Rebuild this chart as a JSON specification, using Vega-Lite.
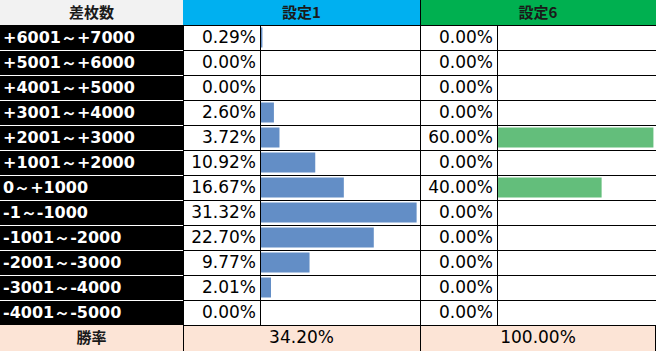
{
  "$schema": "https://vega.github.io/schema/vega-lite/v6.json",
  "padding": 0,
  "spacing": 0,
  "background": "white",
  "config": {"view": {"stroke": null}, "concat": {"spacing": 0}, "mark": {"clip": true}},
  "datasets": {
    "rows": [
      {"range": "+6001～+7000", "s1": 0.0029, "s6": 0.0},
      {"range": "+5001～+6000", "s1": 0.0, "s6": 0.0},
      {"range": "+4001～+5000", "s1": 0.0, "s6": 0.0},
      {"range": "+3001～+4000", "s1": 0.026, "s6": 0.0},
      {"range": "+2001～+3000", "s1": 0.0372, "s6": 0.6},
      {"range": "+1001～+2000", "s1": 0.1092, "s6": 0.0},
      {"range": "0～+1000", "s1": 0.1667, "s6": 0.4},
      {"range": "-1～-1000", "s1": 0.3132, "s6": 0.0},
      {"range": "-1001～-2000", "s1": 0.227, "s6": 0.0},
      {"range": "-2001～-3000", "s1": 0.0977, "s6": 0.0},
      {"range": "-3001～-4000", "s1": 0.0201, "s6": 0.0},
      {"range": "-4001～-5000", "s1": 0.0, "s6": 0.0}
    ],
    "head": [{"c1": "差枚数", "c2": "設定1", "c3": "設定6"}],
    "foot": [{"label": "勝率", "s1": 0.342, "s6": 1.0}]
  },
  "vconcat": [
    {
      "spacing": 0,
      "bounds": "flush",
      "hconcat": [
        {
          "width": 183, "height": 25, "data": {"name": "head"},
          "layer": [
            {"mark": {"type": "rect", "fill": "#f2f2f2", "clip": true}, "encoding": {}},
            {"mark": {"type": "text", "clip": true, "font": "Noto Sans CJK JP", "fontWeight": "bold", "fontSize": 15, "fill": "#1a1a1a", "baseline": "middle"}, "encoding": {"text": {"field": "c1"}}}
          ]
        },
        {
          "width": 237, "height": 25, "data": {"name": "head"},
          "layer": [
            {"mark": {"type": "rect", "fill": "#00b0f0", "clip": true}, "encoding": {}},
            {"mark": {"type": "text", "clip": true, "font": "Noto Sans CJK JP", "fontWeight": "bold", "fontSize": 15, "fill": "#1a1a1a", "baseline": "middle"}, "encoding": {"text": {"field": "c2"}}}
          ]
        },
        {
          "width": 236, "height": 25, "data": {"name": "head"},
          "layer": [
            {"mark": {"type": "rect", "fill": "#00b050", "clip": true}, "encoding": {}},
            {"mark": {"type": "rule", "clip": true, "stroke": "#000", "strokeWidth": 1, "xOffset": 0.5}, "encoding": {"x": {"value": 0}}},
            {"mark": {"type": "text", "clip": true, "font": "Noto Sans CJK JP", "fontWeight": "bold", "fontSize": 15, "fill": "#1a1a1a", "baseline": "middle"}, "encoding": {"text": {"field": "c3"}}}
          ]
        }
      ]
    },
    {
      "spacing": 0,
      "bounds": "flush",
      "data": {"name": "rows"},
      "hconcat": [
        {
          "width": 183, "height": 300,
          "layer": [
            {"mark": {"type": "rect", "fill": "#000", "clip": true}, "encoding": {"y": {"field": "range", "type": "nominal", "sort": null, "scale": {"type": "band", "paddingInner": 0, "paddingOuter": 0}, "axis": null}}},
            {"transform": [{"filter": "datum.range !== '+6001～+7000'"}], "mark": {"type": "rule", "clip": true, "stroke": "#fff", "strokeWidth": 1, "yOffset": 0.5}, "encoding": {"y": {"field": "range", "type": "nominal", "sort": null, "bandPosition": 0, "axis": null}}},
            {"mark": {"type": "text", "clip": true, "align": "left", "baseline": "middle", "dx": 3, "font": "DejaVu Sans", "fontWeight": "bold", "fontSize": 16, "fill": "#fff"}, "encoding": {"x": {"value": 0}, "y": {"field": "range", "type": "nominal", "sort": null, "axis": null}, "text": {"field": "range"}}}
          ]
        },
        {
          "width": 77, "height": 300,
          "layer": [
            {"mark": {"type": "rule", "clip": true, "stroke": "#000", "strokeWidth": 1, "yOffset": 0.5}, "encoding": {"y": {"field": "range", "type": "nominal", "sort": null, "bandPosition": 0, "scale": {"type": "band", "paddingInner": 0, "paddingOuter": 0}, "axis": null}}},
            {"mark": {"type": "rule", "clip": true, "stroke": "#000", "strokeWidth": 1, "xOffset": 0.5}, "encoding": {"x": {"value": 0}}},
            {"mark": {"type": "text", "clip": true, "align": "right", "baseline": "middle", "dx": -4, "font": "DejaVu Sans", "fontSize": 17, "fill": "#000"}, "encoding": {"x": {"value": "width"}, "y": {"field": "range", "type": "nominal", "sort": null, "axis": null}, "text": {"field": "s1", "type": "quantitative", "format": ".2%"}}}
          ]
        },
        {
          "width": 160, "height": 300,
          "layer": [
            {"mark": {"type": "rule", "clip": true, "stroke": "#000", "strokeWidth": 1, "yOffset": 0.5}, "encoding": {"y": {"field": "range", "type": "nominal", "sort": null, "bandPosition": 0, "scale": {"type": "band", "paddingInner": 0, "paddingOuter": 0}, "axis": null}}},
            {"mark": {"type": "rule", "clip": true, "stroke": "#000", "strokeWidth": 1, "xOffset": 0.5}, "encoding": {"x": {"value": 0}}},
            {"mark": {"type": "bar", "clip": true, "fill": "#638ec6", "height": {"band": 0.8}}, "encoding": {"y": {"field": "range", "type": "nominal", "sort": null, "axis": null}, "x": {"field": "s1", "type": "quantitative", "scale": {"domain": [-0.002, 0.32], "nice": false, "zero": false}, "axis": null}}}
          ]
        },
        {
          "width": 77, "height": 300,
          "layer": [
            {"mark": {"type": "rule", "clip": true, "stroke": "#000", "strokeWidth": 1, "yOffset": 0.5}, "encoding": {"y": {"field": "range", "type": "nominal", "sort": null, "bandPosition": 0, "scale": {"type": "band", "paddingInner": 0, "paddingOuter": 0}, "axis": null}}},
            {"mark": {"type": "rule", "clip": true, "stroke": "#000", "strokeWidth": 1, "xOffset": 0.5}, "encoding": {"x": {"value": 0}}},
            {"mark": {"type": "text", "clip": true, "align": "right", "baseline": "middle", "dx": -4, "font": "DejaVu Sans", "fontSize": 17, "fill": "#000"}, "encoding": {"x": {"value": "width"}, "y": {"field": "range", "type": "nominal", "sort": null, "axis": null}, "text": {"field": "s6", "type": "quantitative", "format": ".2%"}}}
          ]
        },
        {
          "width": 159, "height": 300,
          "layer": [
            {"mark": {"type": "rule", "clip": true, "stroke": "#000", "strokeWidth": 1, "yOffset": 0.5}, "encoding": {"y": {"field": "range", "type": "nominal", "sort": null, "bandPosition": 0, "scale": {"type": "band", "paddingInner": 0, "paddingOuter": 0}, "axis": null}}},
            {"mark": {"type": "rule", "clip": true, "stroke": "#000", "strokeWidth": 1, "xOffset": 0.5}, "encoding": {"x": {"value": 0}}},
            {"mark": {"type": "bar", "clip": true, "fill": "#63be7b", "height": {"band": 0.8}}, "encoding": {"y": {"field": "range", "type": "nominal", "sort": null, "axis": null}, "x": {"field": "s6", "type": "quantitative", "scale": {"domain": [-0.004, 0.61], "nice": false, "zero": false}, "axis": null}}}
          ]
        }
      ]
    },
    {
      "spacing": 0,
      "bounds": "flush",
      "data": {"name": "foot"},
      "hconcat": [
        {
          "width": 183, "height": 26,
          "layer": [
            {"mark": {"type": "rect", "fill": "#fce4d6", "clip": true}, "encoding": {}},
            {"mark": {"type": "text", "clip": true, "font": "Noto Sans CJK JP", "fontWeight": "bold", "fontSize": 15, "fill": "#1a1a1a", "baseline": "middle"}, "encoding": {"text": {"field": "label"}}}
          ]
        },
        {
          "width": 237, "height": 26,
          "layer": [
            {"mark": {"type": "rect", "fill": "#fce4d6", "clip": true}, "encoding": {}},
            {"mark": {"type": "rule", "clip": true, "stroke": "#000", "strokeWidth": 1, "xOffset": 0.5}, "encoding": {"x": {"value": 0}}},
            {"mark": {"type": "rule", "clip": true, "stroke": "#000", "strokeWidth": 1, "yOffset": 0.5}, "encoding": {"y": {"value": 0}}},
            {"mark": {"type": "text", "clip": true, "font": "DejaVu Sans", "fontSize": 17, "fill": "#000", "baseline": "middle"}, "encoding": {"text": {"field": "s1", "type": "quantitative", "format": ".2%"}}}
          ]
        },
        {
          "width": 236, "height": 26,
          "layer": [
            {"mark": {"type": "rect", "fill": "#fce4d6", "clip": true}, "encoding": {}},
            {"mark": {"type": "rule", "clip": true, "stroke": "#000", "strokeWidth": 1, "xOffset": 0.5}, "encoding": {"x": {"value": 0}}},
            {"mark": {"type": "rule", "clip": true, "stroke": "#000", "strokeWidth": 1, "xOffset": -0.5}, "encoding": {"x": {"value": "width"}}},
            {"mark": {"type": "rule", "clip": true, "stroke": "#000", "strokeWidth": 1, "yOffset": 0.5}, "encoding": {"y": {"value": 0}}},
            {"mark": {"type": "text", "clip": true, "font": "DejaVu Sans", "fontSize": 17, "fill": "#000", "baseline": "middle"}, "encoding": {"text": {"field": "s6", "type": "quantitative", "format": ".2%"}}}
          ]
        }
      ]
    }
  ]
}
